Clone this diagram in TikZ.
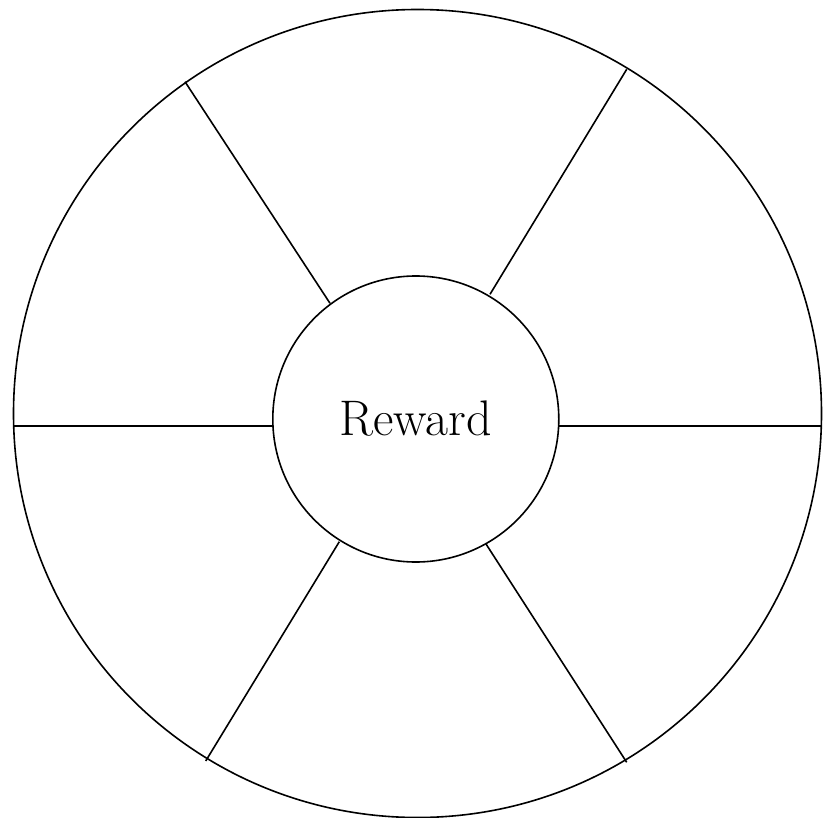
\documentclass[tikz,border=0pt]{standalone}
\begin{document}
\begin{tikzpicture}[x=1pt,y=-1pt,
  ring/.style={draw=black,circle,line width=1.6pt,inner sep=0pt,outer sep=0pt},
  spoke/.style={draw=black,line width=1.6pt}]
\useasboundingbox (0,0) rectangle (832,818);
\node[ring,minimum size=808pt] (outer) at (417.5,413.5) {};
\node[ring,minimum size=286pt,font=\fontsize{50}{58}\selectfont] (inner) at (415.8,419) {Reward};
% spoke end points on the two circles
\coordinate (ulI) at (330,303.3);   \coordinate (ulO) at (185,81.7);
\coordinate (urI) at (490,294.3);   \coordinate (urO) at (626.7,69.3);
\coordinate (lI)  at (273.3,426);   \coordinate (lO)  at (13,426);
\coordinate (rI)  at (558.3,426);   \coordinate (rO)  at (822,426);
\coordinate (llI) at (339.3,541.7); \coordinate (llO) at (205.7,761);
\coordinate (lrI) at (486,544);     \coordinate (lrO) at (626.7,762.3);
\draw[spoke] (ulI) -- (ulO);
\draw[spoke] (urI) -- (urO);
\draw[spoke] (lI) -- (lO);
\draw[spoke] (rI) -- (rO);
\draw[spoke] (llI) -- (llO);
\draw[spoke] (lrI) -- (lrO);
\end{tikzpicture}
\end{document}
